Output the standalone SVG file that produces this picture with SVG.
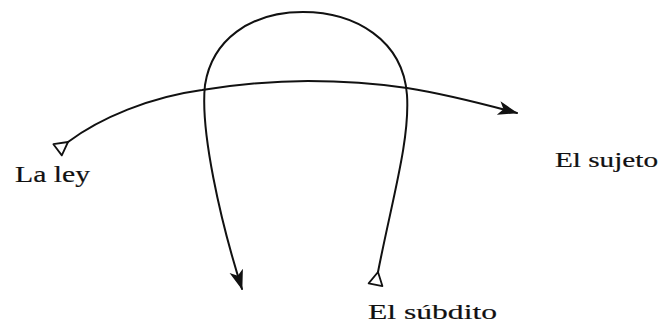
<svg xmlns="http://www.w3.org/2000/svg" width="662" height="324" viewBox="0 0 662 324">
  <style>
    .conn { fill: none; stroke: #111; stroke-width: 2; stroke-linecap: round; }
    .lbl { font-family: "Liberation Serif", "Times New Roman", serif; fill: #111; stroke: #111; stroke-width: 0.2; }
  </style>
  <defs>
    <marker id="arrow" markerUnits="userSpaceOnUse" markerWidth="24" markerHeight="18" viewBox="0 -9 24 18" refX="19" refY="0" orient="auto">
      <path d="M0,-7 L20,0 L0,7 L5,0 Z" fill="#111"/>
    </marker>
    <marker id="tail" markerUnits="userSpaceOnUse" markerWidth="18" markerHeight="18" viewBox="-2 -9 18 18" refX="13" refY="0" orient="auto">
      <path d="M0,-7 L13,0 L0,7 Z" fill="#fff" stroke="#111" stroke-width="1.8" stroke-linejoin="round"/>
    </marker>
  </defs>
  <rect width="662" height="324" fill="#fff"/>
  <g id="connectors">
    <path class="conn" d="M68,142 C100,118 150,97 202,90 C240,84 270,81 308,81 C345,81 380,84 407,88 C445,94 480,103 517,113" marker-start="url(#tail)" marker-end="url(#arrow)"/>
    <path class="conn" d="M378,272 C392,200 410,140 407,95 C403,40 355,12 303,12 C250,12 212,40 205,85 C200,130 220,220 242,289" marker-start="url(#tail)" marker-end="url(#arrow)"/>
  </g>
  <g id="node-la-ley">
    <text class="lbl" x="15" y="182" font-size="23" textLength="75" lengthAdjust="spacingAndGlyphs">La ley</text>
  </g>
  <g id="node-el-sujeto">
    <text class="lbl" x="555" y="167" font-size="21" textLength="103" lengthAdjust="spacingAndGlyphs">El sujeto</text>
  </g>
  <g id="node-el-subdito">
    <text class="lbl" x="368" y="319" font-size="22" textLength="129" lengthAdjust="spacingAndGlyphs">El súbdito</text>
  </g>
</svg>
